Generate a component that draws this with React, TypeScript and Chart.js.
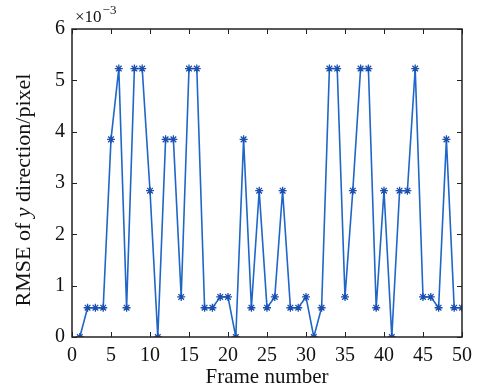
import React, { useEffect, useRef } from "react";
import { Chart, registerables } from "chart.js";

Chart.register(...registerables);

const frames: number[] = Array.from({ length: 50 }, (_, i) => i + 1);
const rmseY: number[] = [
  0, 0.57, 0.57, 0.57, 3.85, 5.23, 0.57, 5.23, 5.23, 2.85,
  0, 3.85, 3.85, 0.78, 5.23, 5.23, 0.57, 0.57, 0.78, 0.78,
  0, 3.85, 0.57, 2.85, 0.57, 0.78, 2.85, 0.57, 0.57, 0.78,
  0, 0.57, 5.23, 5.23, 0.78, 2.85, 5.23, 5.23, 0.57, 2.85,
  0, 2.85, 2.85, 5.23, 0.78, 0.78, 0.57, 3.85, 0.57, 0.57,
];
const xTitle = "Frame number";
const yTitleParts = ["RMSE of ", "y", " direction/pixel"];
const multiplierBase = "×10";
const multiplierExp = "−3";

const FONT = '"Liberation Serif", "Times New Roman", serif';

const framePlugin = {
  id: "matlabFrame",
  afterDraw(chart: any) {
    const { ctx, chartArea: a, scales } = chart;
    const xs = scales.x;
    const ys = scales.y;
    ctx.save();
    ctx.strokeStyle = "#222";
    ctx.lineWidth = 1.5;
    ctx.strokeRect(a.left, a.top, a.right - a.left, a.bottom - a.top);
    ctx.lineWidth = 1;
    const tl = 5;
    ctx.beginPath();
    xs.ticks.forEach((t: any) => {
      const px = Math.round(xs.getPixelForValue(t.value)) + 0.5;
      ctx.moveTo(px, a.bottom);
      ctx.lineTo(px, a.bottom - tl);
      ctx.moveTo(px, a.top);
      ctx.lineTo(px, a.top + tl);
    });
    ys.ticks.forEach((t: any) => {
      const py = Math.round(ys.getPixelForValue(t.value)) + 0.5;
      ctx.moveTo(a.left, py);
      ctx.lineTo(a.left + tl, py);
      ctx.moveTo(a.right, py);
      ctx.lineTo(a.right - tl, py);
    });
    ctx.stroke();

    // multiplier
    ctx.fillStyle = "#111";
    ctx.textBaseline = "alphabetic";
    ctx.textAlign = "left";
    ctx.font = `17px ${FONT}`;
    ctx.fillText(multiplierBase, a.left + 3, 22);
    const w = ctx.measureText(multiplierBase).width;
    ctx.font = `13px ${FONT}`;
    ctx.fillText(multiplierExp, a.left + 3 + w + 1, 14);

    // y title
    ctx.save();
    ctx.translate(24, 190);
    ctx.rotate(-Math.PI / 2);
    const fonts = [`22px ${FONT}`, `italic 22px ${FONT}`, `22px ${FONT}`];
    let total = 0;
    yTitleParts.forEach((p, i) => {
      ctx.font = fonts[i];
      total += ctx.measureText(p).width;
    });
    let x = -total / 2;
    ctx.textBaseline = "middle";
    yTitleParts.forEach((p, i) => {
      ctx.font = fonts[i];
      ctx.fillText(p, x, 0);
      x += ctx.measureText(p).width;
    });
    ctx.restore();

    // x title
    ctx.font = `21px ${FONT}`;
    ctx.textAlign = "center";
    ctx.textBaseline = "alphabetic";
    ctx.fillText(xTitle, (a.left + a.right) / 2, 383);
    ctx.restore();
  },
};

export default function App() {
  const ref = useRef<HTMLCanvasElement>(null);
  useEffect(() => {
    if (!ref.current) return;
    const chart = new Chart(ref.current, {
      type: "line",
      data: {
        datasets: [
          {
            data: frames.map((f, i) => ({ x: f, y: rmseY[i] })),
            borderColor: "#1f66c8",
            backgroundColor: "#1a4fb0",
            pointBorderColor: "#1a4fb0",
            borderWidth: 1.6,
            pointStyle: "star",
            pointRadius: 4,
            pointBorderWidth: 1.3,
            tension: 0,
            fill: false,
          },
        ],
      },
      options: {
        animation: false,
        responsive: false,
        devicePixelRatio: 1,
        layout: { padding: { top: 29, right: 19, left: 0, bottom: 0 } },
        plugins: { legend: { display: false }, tooltip: { enabled: false }, title: { display: false } },
        scales: {
          x: {
            type: "linear",
            min: 0,
            max: 50,
            grid: { display: false, drawTicks: false },
            border: { display: false },
            ticks: { stepSize: 5, padding: 7, color: "#111", font: { family: FONT, size: 20 }, maxRotation: 0 },
            afterFit(s: any) {
              s.height = 52;
            },
          },
          y: {
            type: "linear",
            min: 0,
            max: 6,
            grid: { display: false, drawTicks: false },
            border: { display: false },
            ticks: { stepSize: 1, padding: 7, color: "#111", font: { family: FONT, size: 20 } },
            afterFit(s: any) {
              s.width = 72;
            },
          },
        },
      },
      plugins: [framePlugin],
    });
    return () => chart.destroy();
  }, []);
  return (
    <div style={{ position: "fixed", left: 0, top: 0, width: 481, height: 389, background: "#fff" }}>
      <canvas ref={ref} width={481} height={389} style={{ width: 481, height: 389 }} />
    </div>
  );
}
